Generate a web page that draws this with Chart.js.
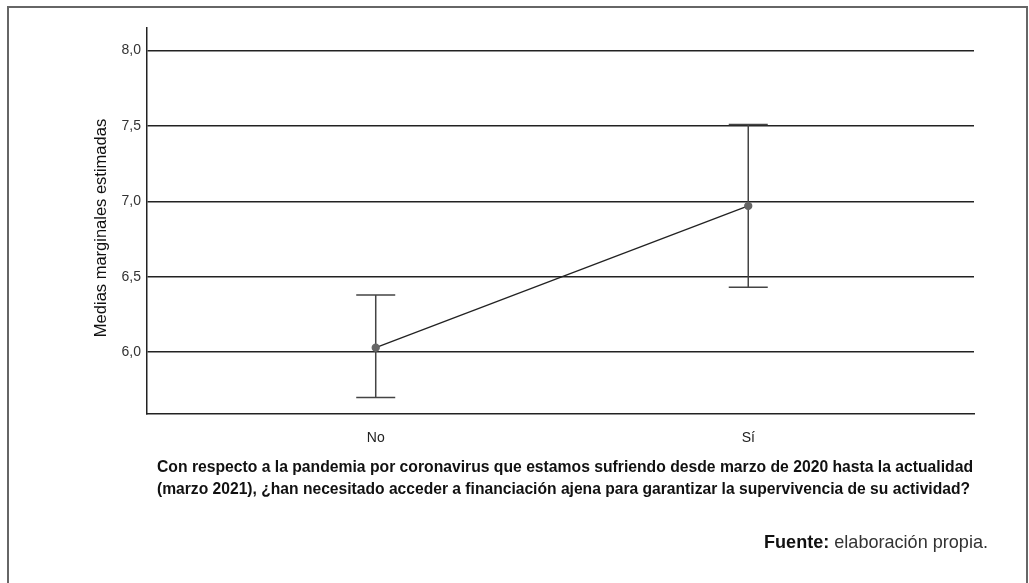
<!DOCTYPE html>
<html>
<head>
<meta charset="utf-8">
<script src="https://cdn.jsdelivr.net/npm/chart.js@4/dist/chart.umd.min.js"></script>
<style>
  html, body { margin: 0; padding: 0; background: #fff; }
  #wrap { width: 1029px; height: 583px; position: relative; }
</style>
</head>
<body>
<div id="wrap"><canvas id="chart" width="1029" height="583"></canvas></div>
<script>
const categories = ["No", "Sí"];
const means = [6.03, 6.97];
const lowerCI = [5.70, 6.43];
const upperCI = [6.38, 7.51];
const yTicks = [6.0, 6.5, 7.0, 7.5, 8.0];

const yTitle = "Medias marginales estimadas";
const captionLines = [
  "Con respecto a la pandemia por coronavirus que estamos sufriendo desde marzo de 2020 hasta la actualidad",
  "(marzo 2021), ¿han necesitado acceder a financiación ajena para garantizar la supervivencia de su actividad?",
];
const sourceBold = "Fuente:";
const sourceText = " elaboración propia.";

const fmt = (v) => v.toFixed(1).replace(".", ",");

// draw text squeezed/stretched to an exact width
function fitText(ctx, text, x, y, width) {
  const w = ctx.measureText(text).width;
  ctx.save();
  ctx.translate(x, y);
  ctx.scale(width / w, 1);
  ctx.fillText(text, 0, 0);
  ctx.restore();
}

// error bars + frame + texts
const extras = {
  id: "extras",
  beforeDraw(chart) {
    const ctx = chart.ctx;
    ctx.save();
    ctx.strokeStyle = "#666";
    ctx.lineWidth = 2;
    ctx.beginPath();
    ctx.moveTo(8, 600);
    ctx.lineTo(8, 7);
    ctx.lineTo(1027, 7);
    ctx.lineTo(1027, 600);
    ctx.stroke();
    ctx.restore();
  },
  beforeDatasetsDraw(chart) {
    const ctx = chart.ctx;
    const x = chart.scales.x;
    const y = chart.scales.y;
    ctx.save();
    ctx.strokeStyle = "#444";
    ctx.lineWidth = 1.5;
    categories.forEach((c, i) => {
      const px = x.getPixelForValue(i);
      const lo = y.getPixelForValue(lowerCI[i]);
      const hi = y.getPixelForValue(upperCI[i]);
      ctx.beginPath();
      ctx.moveTo(px, lo);
      ctx.lineTo(px, hi);
      ctx.moveTo(px - 19.5, lo);
      ctx.lineTo(px + 19.5, lo);
      ctx.moveTo(px - 19.5, hi);
      ctx.lineTo(px + 19.5, hi);
      ctx.stroke();
    });
    ctx.restore();
  },
  afterDraw(chart) {
    const ctx = chart.ctx;
    ctx.save();
    ctx.fillStyle = "#111";
    // y title
    ctx.translate(101, 228);
    ctx.rotate(-Math.PI / 2);
    ctx.textAlign = "center";
    ctx.textBaseline = "middle";
    ctx.font = "16.5px 'Liberation Sans', Arial, sans-serif";
    ctx.fillText(yTitle, 0, 0);
    ctx.restore();

    ctx.save();
    ctx.fillStyle = "#111";
    ctx.textAlign = "left";
    ctx.textBaseline = "middle";
    ctx.font = "bold 16px 'Liberation Sans', sans-serif";
    fitText(ctx, captionLines[0], 157, 468, 816);
    fitText(ctx, captionLines[1], 157, 490, 813);

    ctx.font = "bold 19px 'Liberation Sans', sans-serif";
    const wb = ctx.measureText(sourceBold).width;
    ctx.font = "19px 'Liberation Sans', sans-serif";
    const wt = ctx.measureText(sourceText).width;
    // squeeze the source line to the reference width
    const k = 224 / (wb + wt);
    ctx.translate(764, 543);
    ctx.scale(k, 1);
    ctx.font = "bold 19px 'Liberation Sans', sans-serif";
    ctx.fillText(sourceBold, 0, 0);
    ctx.font = "19px 'Liberation Sans', sans-serif";
    ctx.fillStyle = "#333";
    ctx.fillText(sourceText, wb, 0);
    ctx.restore();
  },
};

new Chart(document.getElementById("chart"), {
  type: "line",
  data: {
    datasets: [
      {
        data: means.map((m, i) => ({ x: i, y: m })),
        borderColor: "#222",
        borderWidth: 1.3,
        pointBackgroundColor: "#666",
        pointBorderColor: "#666",
        pointRadius: 3.5,
        tension: 0,
      },
    ],
  },
  options: {
    responsive: false,
    animation: false,
    layout: { padding: { left: 0, right: 55, top: 28, bottom: 0 } },
    plugins: { legend: { display: false }, tooltip: { enabled: false } },
    scales: {
      x: {
        type: "linear",
        min: -0.614,
        max: 1.606,
        afterBuildTicks: (s) => { s.ticks = categories.map((c, i) => ({ value: i })); },
        afterFit: (s) => { s.height = 169; },
        grid: { display: false },
        border: { display: true, color: "#222", width: 1.5 },
        ticks: {
          callback: (v) => categories[v],
          color: "#222",
          padding: 8,
          font: { family: "'Liberation Sans', Arial, sans-serif", size: 14 },
        },
      },
      y: {
        min: 5.59,
        max: 8.15,
        afterBuildTicks: (s) => { s.ticks = yTicks.map((v) => ({ value: v })); },
        afterFit: (s) => { s.width = 147; },
        grid: { color: "#222", lineWidth: 1.5, drawTicks: false },
        border: { display: true, color: "#222", width: 1.5 },
        ticks: {
          callback: (v) => fmt(v),
          color: "#333",
          padding: 6,
          font: { family: "'Liberation Sans', Arial, sans-serif", size: 14 },
        },
      },
    },
  },
  plugins: [extras],
});
</script>
</body>
</html>
